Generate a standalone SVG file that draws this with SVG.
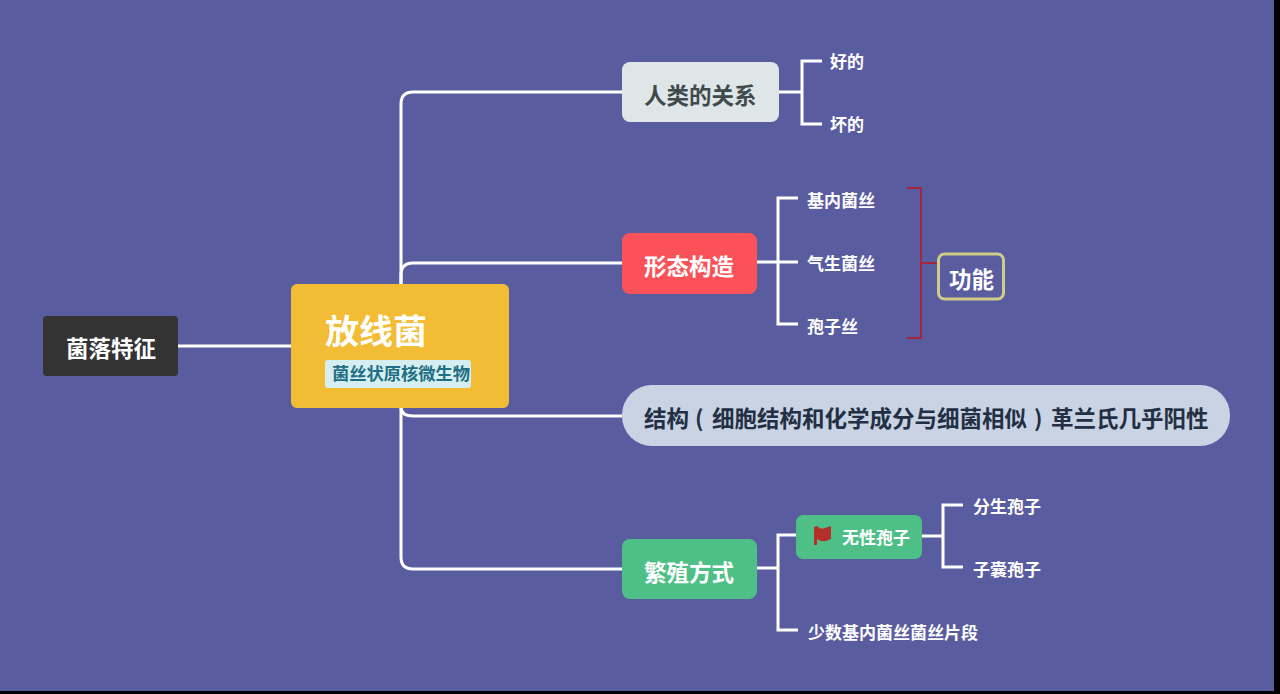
<svg xmlns="http://www.w3.org/2000/svg" width="1280" height="694" viewBox="0 0 1280 694">
<style>
text{font-family:"Noto Sans CJK SC","Noto Sans",sans-serif;font-weight:700}
.c{fill:none;stroke:#fff;stroke-width:3}
.r{fill:none;stroke:#a5253f;stroke-width:2}
.l{fill:#fff;font-size:17px}
.m{font-size:22.500px}
</style>
<rect width="1280" height="694" fill="#000"/>
<rect width="1274" height="691" fill="#5a5ca0"/>
<g id="connectors">
<path class="c" d="M178 346H292"/>
<path class="c" d="M401 284V104Q401 92 413 92H622"/>
<path class="c" d="M401 284V275Q401 263 413 263H622"/>
<path class="c" d="M401 407Q401 416 413 416H622"/>
<path class="c" d="M401 407V557Q401 569 413 569H622"/>
<path class="c" d="M779 92H802M822 61H802V124H822"/>
<path class="c" d="M757 262H778M798 198H778V324H798M778 262H798"/>
<path class="c" d="M757 568H778M796 535H778V630H798"/>
<path class="c" d="M922 536H943M963 505H943V567H963"/>
<path class="r" d="M907 188H921V338H907M921 263H938"/>
</g>
<g id="n-colony"><rect x="43" y="316" width="135" height="60" rx="4" fill="#333"/><text class="m" x="66" y="357" fill="#fff">菌落特征</text></g>
<g id="n-root"><rect x="291" y="284" width="218" height="124" rx="6" fill="#f2bc34"/><text x="325" y="344" font-size="34" fill="#fff">放线菌</text><rect x="325" y="360" width="146" height="28" rx="3" fill="#d5eef2"/><text x="332" y="380" font-size="17.250" fill="#1f6e83">菌丝状原核微生物</text></g>
<g id="n-human"><rect x="622" y="62" width="157" height="60" rx="8" fill="#dfe6e8"/><text class="m" x="644" y="104" fill="#3f4a4d">人类的关系</text></g>
<g id="n-good"><text class="l" x="830" y="68" fill="#fff">好的</text></g>
<g id="n-bad"><text class="l" x="830" y="131" fill="#fff">坏的</text></g>
<g id="n-morph"><rect x="622" y="233" width="135" height="61" rx="8" fill="#fb5259"/><text class="m" x="644" y="275" fill="#fff">形态构造</text></g>
<g id="n-sub"><text class="l" x="807" y="207" fill="#fff">基内菌丝</text></g>
<g id="n-aerial"><text class="l" x="807" y="270" fill="#fff">气生菌丝</text></g>
<g id="n-spore"><text class="l" x="807" y="333" fill="#fff">孢子丝</text></g>
<g id="n-func"><rect x="938.500" y="254" width="65" height="45" rx="6" fill="#5a5ca0" stroke="#cfcc8a" stroke-width="3"/><text class="m" x="949" y="288" fill="#fff">功能</text></g>
<g id="n-struct"><rect x="622" y="385" width="608" height="61" rx="30" fill="#c9d3e3"/><text class="m" y="427" fill="#232f44"><tspan x="644">结构</tspan><tspan x="695">(</tspan><tspan x="712">细胞结构和化学成分与细菌相似</tspan><tspan x="1034">)</tspan><tspan x="1051">革兰氏几乎阳性</tspan></text></g>
<g id="n-repro"><rect x="622" y="539" width="135" height="60" rx="8" fill="#4ebf86"/><text class="m" x="644" y="581" fill="#fff">繁殖方式</text></g>
<g id="n-asex"><rect x="796" y="515" width="126" height="44" rx="7" fill="#4ebf86"/><path d="M814 545V527L817 526Q821 530 825 528L831 526V539L826 541Q821 542 817 539V545Z" fill="#b3302b"/><text class="l" x="842" y="544" fill="#fff" font-size="17.500">无性孢子</text></g>
<g id="n-split"><text class="l" x="973" y="513" fill="#fff">分生孢子</text></g>
<g id="n-sac"><text class="l" x="973" y="576" fill="#fff">子囊孢子</text></g>
<g id="n-frag"><text class="l" x="808" y="639" fill="#fff">少数基内菌丝菌丝片段</text></g>
</svg>
